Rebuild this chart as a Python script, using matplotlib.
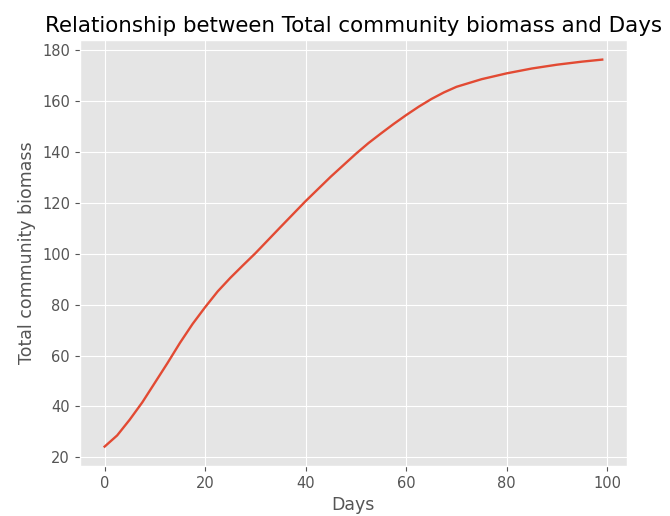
import matplotlib
matplotlib.use('Agg')
import matplotlib.pyplot as plt

# values
days = [0, 2.5, 5, 7.5, 10, 12.5, 15, 17.5, 20, 22.5, 25, 27.5, 30, 35, 40, 45, 50,
        52.5, 55, 57.5, 60, 62.5, 65, 67.5, 70, 75, 80, 85, 90, 95, 99]
biomass = [24.2, 28.6, 34.8, 41.6, 49.3, 57.0, 65.0, 72.4, 79.0, 85.2, 90.5, 95.4,
           100.2, 110.5, 120.7, 130.3, 139.3, 143.5, 147.3, 151.0, 154.5, 157.8,
           160.8, 163.4, 165.6, 168.6, 170.9, 172.8, 174.3, 175.5, 176.3]

plt.style.use('ggplot')

fig = plt.figure(figsize=(6.7, 5.16), dpi=100)
ax = fig.add_axes([0.119, 0.097, 0.817, 0.825])
ax.plot(days, biomass, linewidth=1.7)

ax.set_title('Relationship between Total community biomass and Days', fontsize=15.4)
ax.set_xlabel('Days', fontsize=12.5)
ax.set_ylabel('Total community biomass', fontsize=12.5)
ax.tick_params(labelsize=10.5)

fig.savefig('out.png', dpi=100)
